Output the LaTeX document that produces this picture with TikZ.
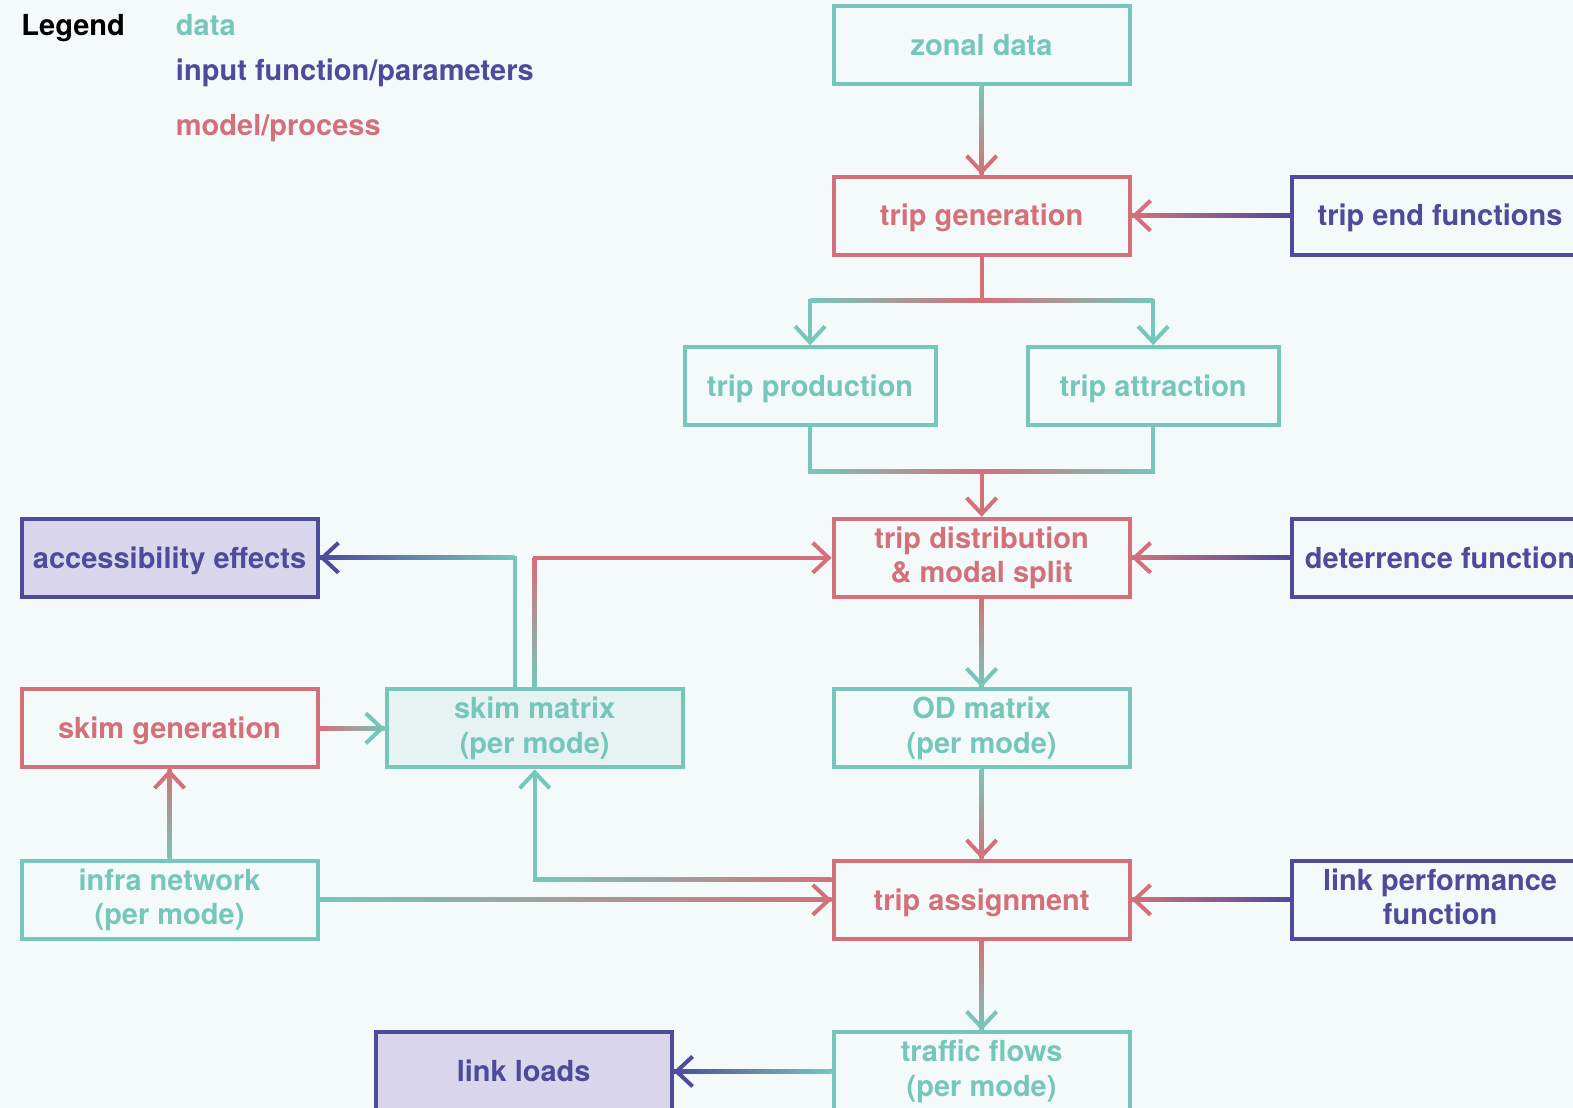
\documentclass[tikz,border=0pt]{standalone}
\usepackage{fontspec}
\setmainfont{TeX Gyre Heros}
\usepackage{xcolor}
\usepackage{tikz}
\usetikzlibrary{arrows.meta,calc}
\definecolor{datacol}{RGB}{118,199,186}
\definecolor{inputcol}{RGB}{78,74,156}
\definecolor{modelcol}{RGB}{212,112,122}
\definecolor{inputfill}{RGB}{218,214,236}
\definecolor{skimfill}{RGB}{230,243,242}
\definecolor{bgcol}{RGB}{244,250,250}
% colour runs along a straight piece of a connector
\newcommand{\hgrad}[4]{\shade[left color=#3,right color=#4] ([yshift=-1pt]#1) rectangle ([yshift=1pt]#2);}
\newcommand{\vgrad}[4]{\shade[top color=#3,bottom color=#4] ([xshift=-1pt]#1) rectangle ([xshift=1pt]#2);}

\begin{document}
\begin{tikzpicture}[x=0.5016pt, y=-0.5016pt,
  every node/.style={font=\bfseries\fontsize{14.5}{17.3}\selectfont},
  box/.style={draw, line width=2pt, minimum width=148pt, minimum height=39pt, inner sep=0pt, align=center,
    execute at begin node={\rule{0pt}{13.4pt}}, execute at end node={\rule[-3pt]{0pt}{3pt}}},
  databox/.style={box, draw=datacol, text=datacol},
  inputbox/.style={box, draw=inputcol, text=inputcol},
  modelbox/.style={box, draw=modelcol, text=modelcol},
  legendtext/.style={anchor=base west, inner sep=0pt},
  conn/.style={line width=2pt, -{Straight Barb[length=8pt,width=15pt]}},
  link/.style={line width=2pt}]
  \useasboundingbox (0,0) rectangle (1568,1104.4);
  \fill[bgcol] (0,0) rectangle (1568,1104.4);
  \clip (0,0) rectangle (1568,1104.4);

  % legend
  \node[legendtext] (legend) at (21,35) {Legend};
  \node[legendtext, text=datacol] (lgdata) at (175,35) {data};
  \node[legendtext, text=inputcol] (lginput) at (175,80) {input function/parameters};
  \node[legendtext, text=modelcol] (lgmodel) at (175,135) {model/process};

  % boxes
  \node[databox] (zonal) at (978.5,45) {zonal data};
  \node[modelbox] (tripgen) at (978.5,215) {trip generation};
  \node[inputbox] (tripend) at (1435.5,215) {trip end functions};
  \node[databox, minimum width=125.5pt] (prod) at (807.5,385) {trip production};
  \node[databox, minimum width=125.5pt] (attr) at (1149.5,385) {trip attraction};
  \node[modelbox] (dist) at (978.5,556) {trip distribution\\\& modal split};
  \node[inputbox] (deter) at (1435.5,556) {deterrence function};
  \node[inputbox, fill=inputfill] (access) at (169,556) {accessibility effects};
  \node[modelbox] (skimgen) at (169,726) {skim generation};
  \node[databox, fill=skimfill] (skim) at (533,726) {skim matrix\\(per mode)};
  \node[databox] (od) at (978.5,726) {OD matrix\\(per mode)};
  \node[databox] (infra) at (169,897) {infra network\\(per mode)};
  \node[modelbox] (assign) at (978.5,897) {trip assignment};
  \node[inputbox] (linkperf) at (1435.5,897) {link performance\\function};
  \node[inputbox, fill=inputfill] (loads) at (522,1068) {link loads};
  \node[databox] (flows) at (978.5,1068) {traffic flows\\(per mode)};

  % corner points
  \coordinate (gsplit) at (978.5,300);
  \coordinate (pjoin) at (978.5,470);
  \coordinate (gl) at (prod.north |- gsplit);
  \coordinate (gr) at (attr.north |- gsplit);
  \coordinate (jl) at (prod.south |- pjoin);
  \coordinate (jr) at (attr.south |- pjoin);
  \coordinate (c6) at (skim.north |- dist.west);
  \coordinate (s7) at ([xshift=-10pt]skim.north);
  \coordinate (c7) at (s7 |- access.east);
  \coordinate (s12) at ([yshift=10pt]assign.west);
  \coordinate (c12) at (s12 -| skim.south);

  % connectors
  \draw[conn, modelcol] (zonal.south) -- (tripgen.north);
  \draw[conn, modelcol] (tripend.west) -- (tripgen.east);
  \draw[link, modelcol] (tripgen.south) -- (gsplit);
  \draw[conn, datacol] (gsplit) -| (prod.north);
  \draw[conn, datacol] (gsplit) -| (attr.north);
  \draw[link, datacol] (prod.south) |- (pjoin);
  \draw[link, datacol] (attr.south) |- (pjoin);
  \draw[conn, modelcol] (pjoin) -- (dist.north);
  \draw[conn, modelcol] (deter.west) -- (dist.east);
  \draw[conn, modelcol] (skim.north) |- (dist.west);
  \draw[link, datacol, line cap=rect] (s7) -- (c7);
  \draw[conn, inputcol] (c7) -- (access.east);
  \draw[conn, datacol] (dist.south) -- (od.north);
  \draw[conn, datacol] (skimgen.east) -- (skim.west);
  \draw[conn, modelcol] (infra.north) -- (skimgen.south);
  \draw[conn, modelcol] (infra.east) -- (assign.west);
  \draw[conn, datacol] (s12) -| (skim.south);
  \draw[conn, modelcol] (od.south) -- (assign.north);
  \draw[conn, modelcol] (linkperf.west) -- (assign.east);
  \draw[conn, datacol] (assign.south) -- (flows.north);
  \draw[conn, inputcol] (flows.west) -- (loads.east);

  % colour along the lines
  \vgrad{zonal.south}{tripgen.north}{datacol}{modelcol}
  \hgrad{tripgen.east}{tripend.west}{modelcol}{inputcol}
  \hgrad{gl}{gsplit}{datacol}{modelcol}
  \hgrad{gsplit}{gr}{modelcol}{datacol}
  \hgrad{jl}{pjoin}{datacol}{modelcol}
  \hgrad{pjoin}{jr}{modelcol}{datacol}
  \hgrad{dist.east}{deter.west}{modelcol}{inputcol}
  \vgrad{c6}{skim.north}{modelcol}{datacol}
  \hgrad{access.east}{c7}{inputcol}{datacol}
  \vgrad{dist.south}{od.north}{modelcol}{datacol}
  \hgrad{skimgen.east}{skim.west}{modelcol}{datacol}
  \vgrad{skimgen.south}{infra.north}{modelcol}{datacol}
  \hgrad{infra.east}{assign.west}{datacol}{modelcol}
  \hgrad{c12}{s12}{datacol}{modelcol}
  \vgrad{od.south}{assign.north}{datacol}{modelcol}
  \hgrad{assign.east}{linkperf.west}{modelcol}{inputcol}
  \vgrad{assign.south}{flows.north}{modelcol}{datacol}
  \hgrad{loads.east}{flows.west}{inputcol}{datacol}
\end{tikzpicture}
\end{document}
